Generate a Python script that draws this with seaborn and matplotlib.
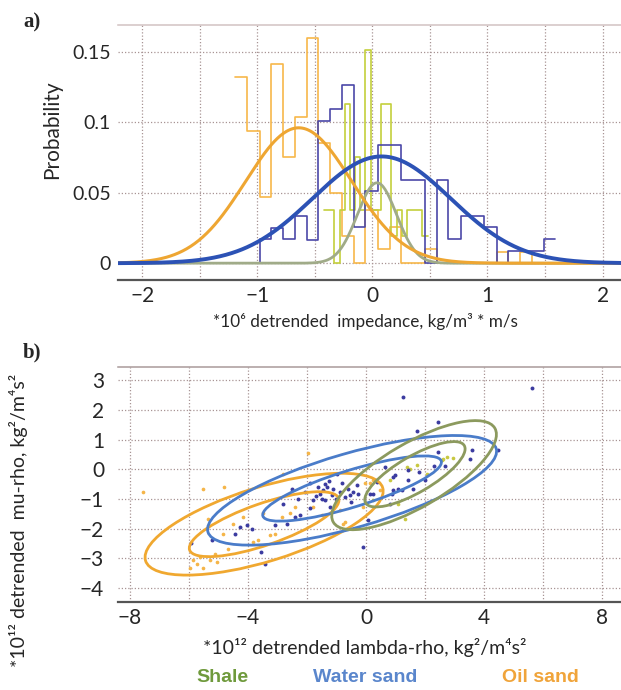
import numpy as np
import pandas as pd
import matplotlib
matplotlib.use("Agg")
import matplotlib.pyplot as plt
from matplotlib.patches import Ellipse
from matplotlib.ticker import MultipleLocator, FuncFormatter, FixedLocator
import seaborn as sns

# ---------------- panel a : histograms (probability per bin) ----------------
bin_edges = [-1.19, -1.09, -0.98, -0.88, -0.78, -0.67, -0.57, -0.47, -0.37, -0.26,
             -0.16, -0.06, 0.05, 0.15, 0.25, 0.36, 0.46, 0.56, 0.66, 0.77,
             0.87, 0.97, 1.08, 1.18, 1.28, 1.39, 1.49, 1.59]
oil_prob = [0.132, 0.094, 0.047, 0.141, 0.0755, 0.104, 0.160, 0.085, 0.050, 0.019,
            0.0, 0.038, 0.010, 0.026, 0.0, 0.0, 0.010, 0.0, 0.0, 0.0,
            0.0, 0.0, 0.008, 0.0, 0.008, 0.0, 0.0]
water_prob = [0.0, 0.0, 0.0169, 0.025, 0.0169, 0.0338, 0.0167, 0.101, 0.1096, 0.1265,
              0.026, 0.051, 0.084, 0.084, 0.059, 0.059, 0.0, 0.059, 0.0169, 0.0333,
              0.0333, 0.026, 0.0, 0.0087, 0.0087, 0.0087, 0.0169]

shale_edges = [-0.42, -0.375, -0.33, -0.285, -0.24, -0.195, -0.15, -0.105, -0.06, -0.015,
               0.03, 0.075, 0.12, 0.165, 0.21, 0.255, 0.30, 0.345, 0.39, 0.435, 0.48]
shale_prob = [0.038, 0.038, 0.0, 0.038, 0.113, 0.038, 0.0755, 0.038, 0.151, 0.038,
              0.038, 0.113, 0.113, 0.019, 0.038, 0.019, 0.038, 0.038, 0.038, 0.019]

# fitted normal curves: mean, std, peak probability
oil_fit = (-0.64, 0.46, 0.096)
water_fit = (0.08, 0.60, 0.0757)
shale_fit = (0.04, 0.17, 0.057)

# ---------------- panel b : crossplot ----------------
water_lr = [-5.91, -5.23, -4.44, -4.27, -4.04, -3.87, -3.54, -3.42, -3.08, -2.80,
            -2.52, -2.69, -2.41, -2.24, -2.07, -1.90, -1.79, -1.62, -1.56, -1.50,
            -1.45, -1.39, -1.33, -1.22, -1.16, -1.11, -0.99, -0.88, -0.82, -0.71,
            -0.60, -0.54, -0.43, -0.32, -0.26, -0.09, 0.08, 0.25, 0.36, 0.64,
            0.93, 0.93, 1.27, 2.45, 1.74, 5.62, 3.58, 3.53, 2.45, 2.68,
            4.49, 0.98, 1.43, 1.43, 1.09, 1.21, 0.87, 1.60, 2.00, 0.81,
            0.14, -1.70, -1.40, -1.00, -2.30, -1.90, -0.50, -1.25, 1.80, 2.30]
water_mr = [-2.50, -2.39, -2.17, -1.94, -1.89, -2.00, -2.78, -3.20, -1.89, -1.16,
            -0.65, -1.83, -1.60, -1.55, -0.76, -1.32, -1.04, -0.60, -0.82, -0.99,
            -0.71, -1.04, -0.60, -1.27, -0.88, -0.65, -0.15, -0.76, -0.48, -0.93,
            -0.65, -0.88, -0.76, -0.54, -0.82, -2.62, -1.72, -0.82, -0.43, 0.08,
            -0.26, -0.71, 2.43, 1.59, 1.29, 2.72, 0.64, 0.36, 0.58, 0.10,
            0.64, -0.20, -0.03, -0.37, -0.65, -0.71, -0.82, -0.65, -0.37, -1.16,
            -0.82, -0.90, -0.50, -1.00, -1.00, -0.45, -1.10, -0.40, -0.10, 0.10]

oil_lr = [-7.55, -5.51, -4.81, -5.35, -4.16, -4.50, -4.84, -5.85, -5.74, -5.63,
          -5.51, -5.29, -5.12, -5.06, -5.97, -4.67, -3.82, -3.65, -3.25, -3.08,
          -2.86, -2.80, -2.58, -2.41, -1.96, -1.79, -1.50, -3.48, -0.88, -0.71,
          -0.09, -0.03, 0.25, -0.77, 0.14, 0.47]
oil_mr = [-0.78, -0.68, -0.60, -1.69, -1.60, -1.83, -2.17, -3.06, -3.18, -2.95,
          -3.34, -3.06, -2.84, -3.12, -3.34, -2.67, -2.45, -2.39, -2.22, -2.17,
          -1.60, -0.15, -1.49, -1.27, 0.55, -1.27, -1.55, -1.49, -1.38, -1.77,
          -1.27, -0.48, -0.37, -1.83, -0.48, -0.71]

shale_lr = [1.49, 1.72, 2.56, 2.73, 2.96, 2.62, 1.32, 1.10, 0.25, 1.38, 2.06, 0.81]
shale_mr = [0.02, 0.13, 0.30, 0.41, 0.39, 0.33, -1.66, -1.16, -1.04, 0.08, -0.15, -0.37]

# contour ellipses: centre x, centre y, semi-major, semi-minor, angle (deg)
oil_ellipses = [(-3.45, -1.85, 4.20, 1.25, 17), (-3.45, -1.85, 2.67, 0.70, 19)]
water_ellipses = [(-0.47, -0.71, 5.08, 1.25, 16), (-0.47, -0.65, 3.16, 0.62, 17)]
shale_ellipses = [(1.63, -0.20, 3.16, 1.08, 30), (1.66, -0.17, 1.93, 0.61, 30)]

legend_names = ["Shale", "Water sand", "Oil sand"]
legend_colors = ["#6f9a3c", "#5a86cc", "#f0a43a"]

# ---------------- style ----------------
sns.set_style("white")
plt.rcParams["font.family"] = ["Lato", "DejaVu Sans"]
grid_kw = dict(color="#a89494", linestyle=(0, (1, 1.6)), linewidth=0.9)


def normal_curve(xs, fit):
    mu, sd, peak = fit
    return peak * np.exp(-0.5 * ((xs - mu) / sd) ** 2)


def style_axis(ax, top_color):
    ax.set_axisbelow(True)
    for side in ["left", "right"]:
        ax.spines[side].set_visible(False)
    ax.spines["top"].set_color(top_color)
    ax.spines["top"].set_linewidth(1.1)
    ax.spines["bottom"].set_color("#555555")
    ax.spines["bottom"].set_linewidth(1.6)
    ax.tick_params(axis="x", which="both", direction="out", length=3, width=0.8,
                   color="#555555", pad=1)
    ax.tick_params(axis="y", which="both", length=0)
    ax.grid(True, which="major", **grid_kw)


def fmt_int(v, _):
    if abs(v - round(v)) > 1e-6:
        return ""
    return str(int(round(v))).replace("-", "\u2212")


def step_hist(ax, edges, probs, color, z):
    edges = list(edges)
    centres = [(lo + hi) / 2 for lo, hi in zip(edges[:-1], edges[1:])]
    df = pd.DataFrame({"x": centres, "w": probs})
    sns.histplot(data=df, x="x", weights="w", bins=edges, element="step", fill=False,
                 color=color, linewidth=1.2, ax=ax, zorder=z)


fig = plt.figure(figsize=(6.21, 6.9), dpi=100)
ax_a = fig.add_axes([0.190, 0.594, 0.810, 0.370])
ax_b = fig.add_axes([0.190, 0.1275, 0.810, 0.3406])

# ---------------- panel a ----------------
step_hist(ax_a, bin_edges, oil_prob, "#f7b84a", 2)
step_hist(ax_a, shale_edges, shale_prob, "#c4cf3c", 2)
step_hist(ax_a, bin_edges, water_prob, "#4b48a8", 3)

xs = np.linspace(-2.21, 2.16, 500)
sns.lineplot(x=xs, y=normal_curve(xs, shale_fit), color="#a0ab88", linewidth=2.0, ax=ax_a, zorder=4)
sns.lineplot(x=xs, y=normal_curve(xs, oil_fit), color="#eea632", linewidth=2.2, ax=ax_a, zorder=5)
sns.lineplot(x=xs, y=normal_curve(xs, water_fit), color="#2c52b5", linewidth=2.8, ax=ax_a, zorder=6)

ax_a.set_xlim(-2.21, 2.16)
ax_a.set_ylim(-0.012, 0.169)
ax_a.xaxis.set_major_locator(MultipleLocator(0.5))
ax_a.xaxis.set_major_formatter(FuncFormatter(fmt_int))
ax_a.xaxis.set_minor_locator(MultipleLocator(0.025))
ax_a.yaxis.set_major_locator(FixedLocator([0, 0.05, 0.1, 0.15]))
ax_a.set_yticklabels(["0", "0.05", "0.1", "0.15"])
style_axis(ax_a, "#d2c2c2")
ax_a.tick_params(axis="x", labelsize=15)
ax_a.tick_params(axis="y", labelsize=14, pad=5)
ax_a.set_xlabel("*10\u2076 detrended  impedance, kg/m\u00b3 * m/s", fontsize=12.3)
ax_a.set_ylabel("Probability", fontsize=15)
ax_a.xaxis.set_label_coords(0.491, -0.13)
ax_a.yaxis.set_label_coords(-0.111, 0.588)

# ---------------- panel b ----------------
sns.scatterplot(x=oil_lr, y=oil_mr, color="#f5b548", s=7, linewidth=0, ax=ax_b, zorder=3)
sns.scatterplot(x=shale_lr, y=shale_mr, color="#c8c840", s=7, linewidth=0, ax=ax_b, zorder=3)
sns.scatterplot(x=water_lr, y=water_mr, color="#3b3ba0", s=8, linewidth=0, ax=ax_b, zorder=4)

for group, col in [(oil_ellipses, "#f0a830"), (water_ellipses, "#4a7cc9"), (shale_ellipses, "#8c9a5e")]:
    for cx, cy, a, b, ang in group:
        ax_b.add_patch(Ellipse((cx, cy), 2 * a, 2 * b, angle=ang, fill=False,
                               edgecolor=col, linewidth=2.0, zorder=5))

ax_b.set_xlim(-8.4, 8.64)
ax_b.set_ylim(-4.47, 3.44)
ax_b.xaxis.set_major_locator(MultipleLocator(2))
ax_b.xaxis.set_major_formatter(FuncFormatter(lambda v, _: fmt_int(v, _) if int(round(v)) % 4 == 0 else ""))
ax_b.xaxis.set_minor_locator(MultipleLocator(0.125))
ax_b.yaxis.set_major_locator(MultipleLocator(1))
ax_b.yaxis.set_major_formatter(FuncFormatter(fmt_int))
style_axis(ax_b, "#a99a9a")
ax_b.tick_params(axis="x", labelsize=15)
ax_b.tick_params(axis="y", labelsize=15, pad=10)
ax_b.set_xlabel("*10\u00b9\u00b2 detrended lambda-rho, kg\u00b2/m\u2074s\u00b2", fontsize=14)
ax_b.set_ylabel("*10\u00b9\u00b2 detrended  mu-rho, kg\u00b2/m\u2074s\u00b2", fontsize=14)
ax_b.xaxis.set_label_coords(0.491, -0.153)
ax_b.yaxis.set_label_coords(-0.179, 0.349)

# panel letters and colour key
fig.text(32 / 621, 1 - 22 / 690, "a)", family="Liberation Serif", fontweight="bold",
         fontsize=15, ha="center", va="center")
fig.text(32 / 621, 1 - 352 / 690, "b)", family="Liberation Serif", fontweight="bold",
         fontsize=15, ha="center", va="center")
for name, col, px in zip(legend_names, legend_colors, [222, 365, 540]):
    fig.text(px / 621, 1 - 678 / 690, name, color=col, fontweight="bold", fontsize=14,
             family=["Liberation Sans", "DejaVu Sans"], ha="center", va="center")

fig.savefig("out.png", dpi=100)
